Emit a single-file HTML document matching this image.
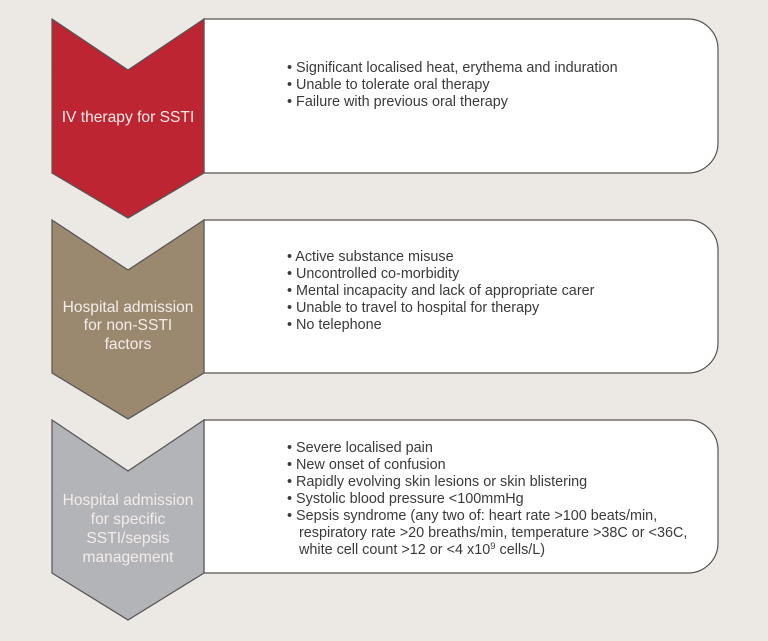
<!DOCTYPE html>
<html><head><meta charset="utf-8"><style>
html,body{margin:0;padding:0;background:#ece9e4;}
svg{display:block;}
text{font-family:"Liberation Sans",sans-serif;}
.b{font-size:14.4px;fill:#3a3a3a;}
.c{font-size:15.6px;fill:#f3ecea;text-anchor:middle;}
</style></head><body>
<svg width="768" height="641" viewBox="0 0 768 641">
<rect width="768" height="641" fill="#ece9e4"/>
<g stroke="#555" stroke-width="1.2">
<path d="M204 19 H688 A30 30 0 0 1 718 49 V143 A30 30 0 0 1 688 173 H204 Z" fill="#fff"/>
<path d="M52 19 L128 70 L204 19 V173 L128 218 L52 173 Z" fill="#bd2532"/>
<path d="M204 220 H688 A30 30 0 0 1 718 250 V343 A30 30 0 0 1 688 373 H204 Z" fill="#fff"/>
<path d="M52 220 L128 270 L204 220 V373 L128 419 L52 373 Z" fill="#9b896f"/>
<path d="M204 420 H688 A30 30 0 0 1 718 450 V543 A30 30 0 0 1 688 573 H204 Z" fill="#fff"/>
<path d="M52 420 L128 471 L204 420 V573 L128 620 L52 573 Z" fill="#b3b4b7"/>
</g>
<text class="c" x="128" y="122">IV therapy for SSTI</text>
<text class="c" x="128" y="312">Hospital admission</text>
<text class="c" x="128" y="330">for non-SSTI</text>
<text class="c" x="128" y="349">factors</text>
<text class="c" x="128" y="505">Hospital admission</text>
<text class="c" x="128" y="524">for specific</text>
<text class="c" x="128" y="543">SSTI/sepsis</text>
<text class="c" x="128" y="562">management</text>
<g class="b">
<text x="287" y="72">• Significant localised heat, erythema and induration</text>
<text x="287" y="89">• Unable to tolerate oral therapy</text>
<text x="287" y="106">• Failure with previous oral therapy</text>
<text x="287" y="261">• Active substance misuse</text>
<text x="287" y="278">• Uncontrolled co-morbidity</text>
<text x="287" y="295">• Mental incapacity and lack of appropriate carer</text>
<text x="287" y="312">• Unable to travel to hospital for therapy</text>
<text x="287" y="329">• No telephone</text>
<text x="287" y="452">• Severe localised pain</text>
<text x="287" y="469">• New onset of confusion</text>
<text x="287" y="486">• Rapidly evolving skin lesions or skin blistering</text>
<text x="287" y="503">• Systolic blood pressure &lt;100mmHg</text>
<text x="287" y="520">• Sepsis syndrome (any two of: heart rate &gt;100 beats/min,</text>
<text x="299" y="537">respiratory rate &gt;20 breaths/min, temperature &gt;38C or &lt;36C,</text>
<text x="299" y="554">white cell count &gt;12 or &lt;4 x10<tspan dy="-5" font-size="9.5">9</tspan><tspan dy="5"> cells/L)</tspan></text>
</g>
</svg>
</body></html>
